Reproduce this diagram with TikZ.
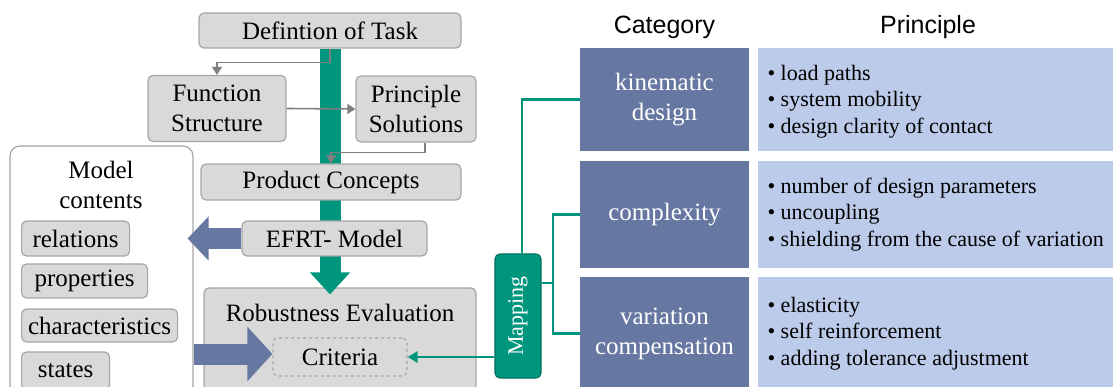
\documentclass[tikz,border=0pt]{standalone}
\usepackage{fontspec}
\setmainfont{Liberation Serif}[Ligatures=CommonOff]
\newfontfamily\arialfont{Liberation Sans}
\usetikzlibrary{arrows.meta,positioning,backgrounds}
\definecolor{boxfill}{HTML}{D9D9D9}
\definecolor{boxline}{HTML}{A6A6A6}
\definecolor{flowgray}{HTML}{7F7F7F}
\definecolor{mapgreen}{HTML}{00967D}
\definecolor{mapdark}{HTML}{00705D}
\definecolor{slate}{HTML}{6677A1}
\definecolor{pale}{HTML}{BDCBEA}

\begin{document}
\begin{tikzpicture}[x=1pt,y=-1pt]
        \tikzstyle{box}=[rectangle,rounded corners=5pt,draw=boxline,fill=boxfill,line width=1.2pt,inner sep=2pt,align=center,font=\fontsize{25}{30}\selectfont]
        \tikzstyle{item}=[box,anchor=west]
        \tikzstyle{cat}=[rectangle,fill=slate,text=white,minimum width=169pt,align=center,font=\fontsize{25}{30}\selectfont]
        \tikzstyle{prin}=[rectangle,fill=pale,minimum width=360pt,anchor=west]
        \tikzstyle{list}=[anchor=west,align=left,font=\fontsize{22}{26.5}\selectfont]
        \tikzstyle{head}=[font=\arialfont\fontsize{25}{30}\selectfont]
        \tikzstyle{flow}=[draw=flowgray,line width=1.6pt,-{Triangle[width=10pt,length=8pt]}]
        \tikzstyle{bar}=[draw=mapgreen,line width=21pt]
        \tikzstyle{fat}=[draw=slate,line width=21pt]
        \tikzstyle{mapline}=[draw=mapgreen,line width=2.5pt]

        \clip (0,0) rectangle (1113,387);

        % design process
        \node[box,minimum width=262pt,minimum height=35pt](task) at (330,30.5) {Defintion of Task};
        \node[box,minimum width=138pt,minimum height=66pt](func) at (217,108.5) {Function\\Structure};
        \node[box,minimum width=120pt,minimum height=66pt](sol) at (416,109) {Principle\\Solutions};
        \node[box,minimum width=260pt,minimum height=36pt](prod) at (331,182) {Product Concepts};
        \node[box,minimum width=185pt,minimum height=35pt](efrt) at (334.5,238.5) {EFRT- Model};
        \node[box,minimum width=272pt,minimum height=112pt](rob) at (340,344) {};
        \node[font=\fontsize{25}{30}\selectfont](robt) at (340,313) {Robustness Evaluation};
        \node[box,dashed,minimum width=134pt,minimum height=38pt](crit) at (340,357) {Criteria};

        % model contents
        \node[rectangle,rounded corners=10pt,draw=boxline,fill=white,line width=1.2pt,minimum width=183pt,minimum height=250pt](model) at (101.5,271) {};
        \node[align=center,font=\fontsize{25}{30}\selectfont](mtitle) at (101,185) {Model\\contents};
        \node[item,minimum width=108pt,minimum height=35pt](rel) at (21,238.5) {relations};
        \node[item,minimum width=126pt,minimum height=34pt](prop) at (21,281) {properties};
        \node[item,minimum width=156pt,minimum height=33pt](char) at (21,325.5) {characteristics};
        \node[item,minimum width=88pt,minimum height=38pt](stat) at (21,371) {states};

        % categories and principles
        \node[head](cathead) at (664.5,27) {Category};
        \node[head](prihead) at (928,27) {Principle};
        \node[cat,minimum height=103pt](kin) at (664.5,99.5) {kinematic\\design};
        \node[cat,minimum height=107pt](comp) at (664.5,214.5) {complexity};
        \node[cat,minimum height=113pt](var) at (664.5,333.5) {variation\\compensation};
        \node[prin,minimum height=103pt](pk) at (758,99.5) {};
        \node[prin,minimum height=107pt](pc) at (758,214.5) {};
        \node[prin,minimum height=113pt](pv) at (758,333.5) {};
        \node[list](lk) at (764,101.5) {• load paths\\• system mobility\\• design clarity of contact};
        \node[list](lc) at (764,214.5) {• number of design parameters\\• uncoupling\\• shielding from the cause of variation};
        \node[list](lv) at (764,333.5) {• elasticity\\• self reinforcement\\• adding tolerance adjustment};

        \node[rectangle,rounded corners=5pt,draw=mapdark,fill=mapgreen,line width=1.2pt,text=white,minimum width=46pt,minimum height=124pt,inner sep=0pt,font=\fontsize{22}{24}\selectfont](map) at (518,316) {\rotatebox{90}{Mapping}};

        % connectors
        \begin{scope}[on background layer]
          \draw[bar] (task.south) -- (task.south |- efrt.south);
        \end{scope}
        \draw[bar,-{Triangle[width=39pt,length=22pt]},shorten >=-7pt] (task.south |- efrt.south) -- (task.south |- rob.north);

        \draw[flow] (task.south) -- ++(0,14) -| (func.north);
        \draw[flow] (func.east) -- (sol.west);
        \draw[flow] ([xshift=9pt]sol.south) -- ++(0,10) -| (prod.north);

        \draw[fat,-{Triangle[width=43pt,length=21pt]},shorten >=-6pt] (efrt.west) -- (model.east |- efrt.west);
        \draw[fat,-{Triangle[width=53pt,length=25pt]}] ([yshift=3pt]model.east |- crit.west) -- ([yshift=3pt]crit.west);

        \coordinate (fork) at (553,283);
        \draw[mapline] ([xshift=4pt]map.north) |- (kin.west);
        \draw[mapline] (map.east |- fork) -- (fork) |- (comp.west);
        \draw[mapline] (fork) |- (var.west);
        \draw[mapline,-{Triangle[width=11pt,length=10pt]}] (map.west |- crit.east) -- (crit.east);
\end{tikzpicture}
\end{document}
